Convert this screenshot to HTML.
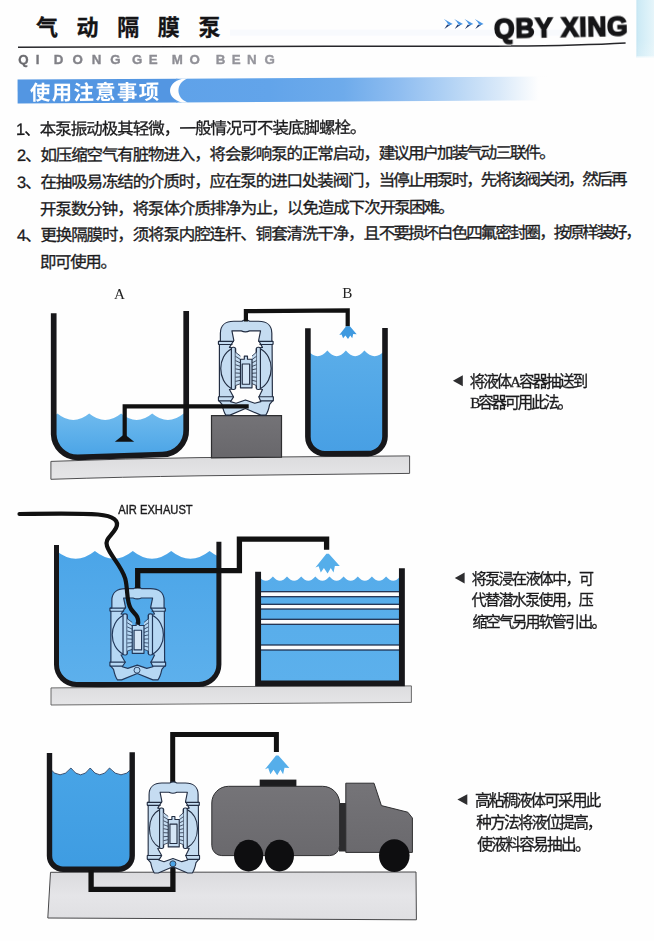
<!DOCTYPE html>
<html lang="zh-CN"><head><meta charset="utf-8"><title>气动隔膜泵 使用注意事项 QBY XING</title>
<style>
html,body{margin:0;padding:0}
body{background:#fefefe;font-family:"Liberation Sans","Noto Sans CJK SC",sans-serif}
.page{position:relative;width:654px;height:941px;overflow:hidden;background:#fefefe}
.abs{position:absolute;left:0;top:0;overflow:visible}
svg.abs,.brand{will-change:transform}
h1,p{margin:0;padding:0;font-weight:normal}
.ln{position:absolute;white-space:nowrap;line-height:1.3}
.t{position:absolute;left:0;top:0;color:#1b1b1d;white-space:nowrap;line-height:1.3;font-family:"Liberation Sans","Noto Sans CJK SC",sans-serif;-webkit-text-stroke:.3px currentColor}
.ln .t{position:static}
.title .t{color:#141416;font-weight:bold}
.h2 .t{color:#ffffff;font-weight:bold;-webkit-text-stroke:0}
.h2{transform:rotate(-0.33deg);transform-origin:0 77%}
.notes .ln{transform:rotate(-0.3deg);transform-origin:0 77%}
.sf{font-family:"Liberation Serif","Noto Serif CJK SC",serif}
.brand{position:absolute;left:494.0px;top:12.6px;font:bold 27.9px/32px "Liberation Sans",sans-serif;letter-spacing:.7px;color:#151517;-webkit-text-stroke:1.6px #151517;paint-order:stroke fill;white-space:nowrap;transform-origin:0 50%;transform:rotate(-1.1deg) scaleX(.95)}
.py{font:bold 12.8px "Liberation Sans",sans-serif;fill:url(#pyg);stroke:url(#pyg);stroke-width:.35px;text-anchor:middle}
.lab{font:15.2px "Liberation Serif",serif;fill:#222;text-anchor:middle}
.air{font:12.2px "Liberation Sans",sans-serif;fill:#1c1c1e}
.pmp{fill:#c5dcf1;stroke:#222d42;stroke-width:8.5;stroke-linejoin:round}
.p2{fill:#b6d8f4;stroke:#22385a}
</style></head><body>
<div class="page">
<svg width="0" height="0" style="position:absolute" aria-hidden="true"><defs>
<symbol id="pump" viewBox="0 0 654 872" preserveAspectRatio="none" overflow="visible">
<path fill-rule="evenodd" d="M148 262 L148 205 C148 150 185 118 245 118 L305 118 C318 106 347 106 360 118 L425 118 C485 118 522 150 522 205 L522 262 L531 266 L531 284 L524 289 L526 664 L533 669 L533 694 L524 700 L506 722 C499 760 489 785 478 800 L442 800 L330 752 L218 800 L188 800 C176 785 168 760 160 722 L142 700 L134 694 L134 669 L141 664 L141 289 L134 284 L134 266 Z
M232 188 L300 188 Q330 202 360 188 L440 188 L426 258 L454 308 L409 316 L409 604 L454 614 L428 668 L442 702 L398 714 L330 690 L262 714 L222 702 L244 668 L214 614 L259 604 L259 316 L214 308 L246 258 Z"/>
<path fill="none" d="M231 318 C124 372 124 552 231 608 M437 318 C544 372 544 552 437 608"/>
<path fill="none" d="M134 264 H247 M134 287 H236 M423 264 H531 M432 287 H531 M134 667 H246 M134 697 H226 M424 667 H533 M440 697 H533"/>
<rect x="228" y="307" width="29" height="307" rx="11"/><rect x="410" y="307" width="29" height="307" rx="11"/>
<path d="M258 343 L294 371 L294 572 L258 586 Z M410 343 L378 371 L378 572 L410 586 Z" stroke="none"/>
<path fill="none" stroke-width="6" d="M258 343 L294 371 M258 373 L294 396 M258 404 L294 421 M258 434 L294 446 M258 464 L294 471 M258 494 L294 496 M258 525 L294 522 M258 555 L294 547 M258 585 L294 572 M410 343 L378 371 M410 373 L378 396 M410 404 L378 421 M410 434 L378 446 M410 464 L378 471 M410 494 L378 496 M410 525 L378 522 M410 555 L378 547 M410 585 L378 572"/>
<path d="M294 394 L322 394 L322 372 L345 372 L345 394 L378 394 L378 602 L294 602 Z"/>
<rect x="307" y="429" width="54" height="147" fill="#d5e6f6"/>
</symbol>
</defs></svg>
<header>
<h1 class="title"><span class="t" style="left:36px;top:14px;font-size:22px;letter-spacing:18.6px">气动隔膜泵</span></h1>
<svg class="abs" width="654" height="110" viewBox="0 0 654 110" aria-hidden="true"><defs><linearGradient id="edge" x1="0" x2="1" y1="0" y2="0"><stop offset="0" stop-color="#c3e4f2"/><stop offset=".12" stop-color="#cdeaf5"/><stop offset=".55" stop-color="#d9f0f8"/><stop offset="1" stop-color="#e6f5fa"/></linearGradient><linearGradient id="edgev" x1="0" x2="0" y1="0" y2="1"><stop offset="0" stop-color="#fff" stop-opacity="0"/><stop offset=".9" stop-color="#fff" stop-opacity=".15"/><stop offset="1" stop-color="#fff" stop-opacity="1"/></linearGradient><linearGradient id="bar" x1="0" x2="1" y1="0" y2="0"><stop offset="0" stop-color="#5fa2e9"/><stop offset=".25" stop-color="#62a4ea"/><stop offset=".45" stop-color="#6eabeb"/><stop offset=".6" stop-color="#8fbdf0"/><stop offset=".72" stop-color="#aed0f4"/><stop offset=".87" stop-color="#d9e9f9"/><stop offset=".975" stop-color="#fefefe"/><stop offset="1" stop-color="#fefefe"/></linearGradient></defs><rect x="636.4" y="0" width="17.6" height="57.5" fill="url(#edge)"/><rect x="230" y="29.6" width="385" height="6.2" fill="#dbe7f7" opacity=".16"/><rect x="636.4" y="40" width="17.6" height="17.5" fill="url(#edgev)"/><path d="M18 47.2 L327 46.3 L480 46.3 Q572 45.9 625.6 42.9" fill="none" stroke="#26262a" stroke-width="1.5"/><g><g transform="translate(443.9 18.9)"><path d="M0 0 L8.8 5 L5.0 6.5 L2.6 2.9z" fill="#4a97e6"/><path d="M6.9 5.6 L0.5 10.1 L3.4 5.6 L4.6 6.3z" fill="#1f3a70"/></g><g transform="translate(454.2 18.9)"><path d="M0 0 L8.8 5 L5.0 6.5 L2.6 2.9z" fill="#4a97e6"/><path d="M6.9 5.6 L0.5 10.1 L3.4 5.6 L4.6 6.3z" fill="#1f3a70"/></g><g transform="translate(464.5 18.9)"><path d="M0 0 L8.8 5 L5.0 6.5 L2.6 2.9z" fill="#4a97e6"/><path d="M6.9 5.6 L0.5 10.1 L3.4 5.6 L4.6 6.3z" fill="#1f3a70"/></g><g transform="translate(474.8 18.9)"><path d="M0 0 L8.8 5 L5.0 6.5 L2.6 2.9z" fill="#4a97e6"/><path d="M6.9 5.6 L0.5 10.1 L3.4 5.6 L4.6 6.3z" fill="#1f3a70"/></g></g><g transform="rotate(-0.33 18 91.5)"><rect x="17.6" y="79.6" width="160" height="23.8" fill="#5396e2"/><rect x="176" y="79.6" width="372" height="23.8" fill="url(#bar)"/><path d="M187.5 79.6 C175.5 84 175.5 99 187.5 103.4 L182.3 103.4 C166 99.5 166 83.5 182.3 79.6 Z" fill="#fefefe"/></g></svg>
<div class="brand">QBY XING</div>
<svg class="abs" width="330" height="75" viewBox="0 0 330 75"><defs><linearGradient id="pyg" gradientUnits="userSpaceOnUse" x1="16" x2="260" y1="0" y2="0"><stop offset="0" stop-color="#646468"/><stop offset=".12" stop-color="#7e7e84"/><stop offset=".45" stop-color="#8a8a91"/><stop offset="1" stop-color="#97979e"/></linearGradient></defs><text class="py" transform="scale(1.040 1)" y="64.3" x="22.6 36.2 45.2 56.3 74.6 92.9 111.1 122.1 132.0 147.3 158.7 170.5 187.3 199.0 212.1 227.2 242.1 259.2">QI DONG GE MO BENG</text></svg>
<p class="ln h2" style="left:29.6px;top:79.5px;font-size:20.4px;letter-spacing:1.35px;height:26.5px"><span class="t">使用注意事项</span></p>
</header>
<section class="notes">
<p class="ln" style="left:16.4px;top:118.5px;font-size:16.5px;letter-spacing:-0.98px;height:21.4px"><span class="t">1、本泵振动极其轻微，一般情况可不装底脚螺栓。</span></p>
<p class="ln" style="left:16.6px;top:145.2px;font-size:16.5px;letter-spacing:-1.12px;height:21.4px"><span class="t">2、如压缩空气有脏物进入，将会影响泵的正常启动，<span style="letter-spacing:-1.92px">建议用户加装气动三联件。</span></span></p>
<p class="ln" style="left:16.6px;top:171.9px;font-size:16.5px;letter-spacing:-1.12px;height:21.4px"><span class="t">3、在抽吸易冻结的介质时，应在泵的进口处装阀门，<span style="letter-spacing:-1.92px">当停止用泵时，先将该阀关</span><span style="letter-spacing:-2.2px">闭，然后再</span></span></p>
<p class="ln" style="left:40.2px;top:198.6px;font-size:16.5px;letter-spacing:-1.06px;height:21.4px"><span class="t">开泵数分钟，将泵体介质排净为止，以免造成下次<span style="letter-spacing:-1.86px">开泵困难。</span></span></p>
<p class="ln" style="left:16.6px;top:225.2px;font-size:16.5px;letter-spacing:-1.12px;height:21.4px"><span class="t">4、更换隔膜时，须将泵内腔连杆、铜套清洗干净，且<span style="letter-spacing:-1.92px">不要损坏白色四氟密封圈，</span><span style="letter-spacing:-2.2px">按原样装好，</span></span></p>
<p class="ln" style="left:40.2px;top:251.9px;font-size:16.5px;letter-spacing:-1.40px;height:21.4px"><span class="t">即可使用。</span></p>
</section>
<figure style="margin:0"><svg class="abs" width="654" height="941" viewBox="0 0 654 941">
<defs>
<linearGradient id="slab" x1="0" x2="0" y1="0" y2="1"><stop offset="0" stop-color="#dcdcde"/><stop offset="1" stop-color="#e6e6e8"/></linearGradient>
<linearGradient id="slab3" x1="0" x2="0" y1="0" y2="1"><stop offset="0" stop-color="#dbdbde"/><stop offset=".5" stop-color="#e5e5e8"/><stop offset="1" stop-color="#dfdfe2"/></linearGradient>
<linearGradient id="blk" x1="0" x2="0" y1="0" y2="1"><stop offset="0" stop-color="#747377"/><stop offset="1" stop-color="#68676b"/></linearGradient>
<linearGradient id="trk" x1="0" x2="0" y1="0" y2="1"><stop offset="0" stop-color="#757478"/><stop offset="1" stop-color="#6a696d"/></linearGradient>
<linearGradient id="w1" gradientUnits="userSpaceOnUse" x1="0" x2="0" y1="412" y2="458"><stop offset="0" stop-color="#70bbee"/><stop offset="1" stop-color="#49a3e6"/></linearGradient>
<linearGradient id="w2" gradientUnits="userSpaceOnUse" x1="0" x2="0" y1="350" y2="455"><stop offset="0" stop-color="#5aade9"/><stop offset="1" stop-color="#479fe4"/></linearGradient>
<linearGradient id="w3" gradientUnits="userSpaceOnUse" x1="0" x2="0" y1="550" y2="685"><stop offset="0" stop-color="#4ba5e8"/><stop offset="1" stop-color="#5db0ec"/></linearGradient>
<linearGradient id="w4" gradientUnits="userSpaceOnUse" x1="0" x2="0" y1="575" y2="683"><stop offset="0" stop-color="#56acea"/><stop offset="1" stop-color="#5cb0ec"/></linearGradient>
<linearGradient id="w5" gradientUnits="userSpaceOnUse" x1="0" x2="0" y1="768" y2="870"><stop offset="0" stop-color="#48a4e6"/><stop offset="1" stop-color="#3e9ce2"/></linearGradient>
</defs>
<g id="fig1">
<path d="M50.9 461.4 Q125 458.5 200 457.6 L409.6 455.9 L409.6 473.4 L200 475.8 Q120 477 50.9 479.3z" fill="url(#slab)" stroke="#4e4e50" stroke-width="1"/>
<clipPath id="cA"><path d="M53.7 313.3 L53.7 434.3 A24.0 24.0 0 0 0 77.7 457.4 L162.2 454.5 A24.0 24.0 0 0 0 186.2 429.6 L186.2 311.0 z"/></clipPath>
<path clip-path="url(#cA)" d="M26.0 413.5 Q41.7 426.5 57.4 413.5 Q73.3 426.5 89.2 413.5 Q105.2 426.5 121.1 413.5 Q136.6 426.5 152.2 413.5 Q167.9 426.5 183.6 413.5 Q199.3 426.5 215.0 413.5 L188 470 L50 470z" fill="url(#w1)"/>
<path d="M53.7 313.3 L53.7 434.3 A24.0 24.0 0 0 0 77.7 457.4 L162.2 454.5 A24.0 24.0 0 0 0 186.2 429.6 L186.2 311.0" fill="none" stroke="#17171a" stroke-width="5.7"/>
<clipPath id="cB"><path d="M307.9 328.3 L307.9 436.8 A17.0 17.0 0 0 0 324.9 453.8 L368.0 453.6 A17.0 17.0 0 0 0 385.0 436.6 L385.0 328.1 z"/></clipPath>
<path clip-path="url(#cB)" d="M307.8 350.6 Q317.6 361.8 327.4 350.6 Q336.6 361.8 345.9 350.6 Q355.1 361.8 364.4 350.6 Q374.6 361.8 384.8 350.6 L386 460 L306 460z" fill="url(#w2)"/>
<path d="M307.9 328.3 L307.9 436.8 A17.0 17.0 0 0 0 324.9 453.8 L368.0 453.6 A17.0 17.0 0 0 0 385.0 436.6 L385.0 328.1" fill="none" stroke="#17171a" stroke-width="5.6"/>
<path d="M211.5 415.7 H281.5 V457.2 L211.5 457.9z" fill="url(#blk)" stroke="#2e2e30" stroke-width="1.2"/>
<use href="#pump" class="pmp" x="200" y="305" width="90" height="120"/>
<path d="M124.7 437 V406.3 H248.7" fill="none" stroke="#111" stroke-width="4.2"/>
<path d="M114.8 441.8 H134.2 L126.2 435.4 H122.6z" fill="#111"/>
<path d="M245.9 321.5 V311.2 L347.7 310.4 V326.4" fill="none" stroke="#111" stroke-width="4.2"/>
<path d="M346.1 326.3 L349.9 326.3 L356.7 334.2 L353.2 334.1 L352.2 338.3 L350.3 335.4 L348.0 338.9 L345.4 335.4 L343.1 338.3 L341.6 334.4 L339.3 335.1z" fill="#3f9ae0"/>
<text class="lab" x="119.5" y="298.9">A</text><text class="lab" x="347.2" y="298.0">B</text>
</g><g id="fig2">
<path d="M51 687.9 L218 686.6 L411.4 685.9 L411.4 702.4 L218 703.8 L51 705z" fill="url(#slab)" stroke="#5b5b5b" stroke-width=".9"/>
<clipPath id="cC"><path d="M56.5 545.0 L56.5 664.5 A20.0 20.0 0 0 0 76.5 684.5 L198.9 684.5 A20.0 20.0 0 0 0 218.9 664.5 L218.9 541.7 z"/></clipPath>
<path clip-path="url(#cC)" d="M56.5 551.0 Q75.7 566.4 94.9 551.0 Q113.9 566.4 132.8 551.0 Q152.0 566.4 171.2 551.0 Q190.4 566.4 209.6 551.0 Q228.8 566.4 248.0 551.0 L222 690 L54 690z" fill="url(#w3)"/>
<clipPath id="cD"><rect x="258.2" y="560" width="143.7" height="123.3"/></clipPath>
<g clip-path="url(#cD)"><path d="M258.8 576.6 Q265.8 585.0 272.9 576.6 Q280.0 585.0 287.0 576.6 Q294.1 585.0 301.2 576.6 Q308.3 585.0 315.3 576.6 Q322.4 585.0 329.5 576.6 Q336.6 585.0 343.6 576.6 Q350.7 585.0 357.8 576.6 Q364.9 585.0 371.9 576.6 Q379.0 585.0 386.1 576.6 Q393.2 585.0 400.2 576.6 Q407.3 585.0 414.4 576.6 L420 690 L250 690z" fill="url(#w4)"/>
<rect x="255" y="591.7" width="150" height="5.0" fill="#fbfcfd" stroke="#1c2b4a" stroke-width="1.25"/>
<rect x="255" y="604.3" width="150" height="4.7" fill="#fbfcfd" stroke="#1c2b4a" stroke-width="1.25"/>
<rect x="255" y="619.3" width="150" height="5.0" fill="#fbfcfd" stroke="#1c2b4a" stroke-width="1.25"/>
<rect x="255" y="645.0" width="150" height="5.0" fill="#fbfcfd" stroke="#1c2b4a" stroke-width="1.25"/>
</g>
<path d="M258.1 571.7 V683.4 H401.9 V568.3" fill="none" stroke="#17171a" stroke-width="5.9"/>
<use href="#pump" class="pmp p2" x="91.2" y="572.8" width="91.3" height="116.7"/>
<circle cx="137" cy="670.2" r="3" fill="#b3d6f3" stroke="#22385a" stroke-width=".9"/>
<path d="M56.5 545.0 L56.5 664.5 A20.0 20.0 0 0 0 76.5 684.5 L198.9 684.5 A20.0 20.0 0 0 0 218.9 664.5 L218.9 541.7" fill="none" stroke="#17171a" stroke-width="5"/>
<path d="M137.7 588.5 V570.6 H239.4 V539.2 H326.6 V549.8" fill="none" stroke="#111" stroke-width="5.3"/>
<path d="M19.5 514 C50 513.5 80 513 98 514.5 C114 516 119.5 521 116 528 C112 536 104.5 538.5 107 546 C110 555.5 121 565 125.2 578.5 C128.2 590 126 601 131 609 C135 615 138.3 615 138.3 623" fill="none" stroke="#111" stroke-width="4.2" stroke-linecap="round"/>
<path d="M326.4 553.8 L328.8 553.8 L339.8 566.1 L334.9 566.0 L333.5 572.4 L330.8 567.9 L327.6 573.4 L323.9 567.9 L320.8 572.4 L318.6 566.3 L315.4 567.5z" fill="#55aeea"/>
<text class="air" x="118.3" y="514.0" stroke="#1c1c1e" stroke-width=".4" textLength="74.4" lengthAdjust="spacingAndGlyphs">AIR EXHAUST</text>
</g><g id="fig3">
<path d="M50.5 872.3 L416 872 L416.4 919.8 L47.8 918z" fill="url(#slab3)" stroke="#48484a" stroke-width="1"/>
<clipPath id="cE"><path d="M49.5 753.0 L49.5 855.7 A13.5 13.5 0 0 0 63.0 869.2 L118.7 869.2 A13.5 13.5 0 0 0 132.2 855.7 L132.2 752.3 z"/></clipPath>
<path clip-path="url(#cE)" d="M49.2 768.0 Q60.1 781.6 70.9 768.0 Q80.6 781.6 90.2 768.0 Q99.8 781.6 109.5 768.0 Q121.0 781.6 132.5 768.0 L134 875 L48 875z" fill="url(#w5)"/>
<path d="M49.2 768.0 Q60.1 781.6 70.9 768.0 Q80.6 781.6 90.2 768.0 Q99.8 781.6 109.5 768.0 Q121.0 781.6 132.5 768.0" fill="none" stroke="#1b2f52" stroke-width=".8"/>
<path d="M49.5 753.0 L49.5 855.7 A13.5 13.5 0 0 0 63.0 869.2 L118.7 869.2 A13.5 13.5 0 0 0 132.2 855.7 L132.2 752.3" fill="none" stroke="#17171a" stroke-width="5.4"/>
<path d="M91.1 870 V889.4 H172.9 V866.5" fill="none" stroke="#111" stroke-width="5.3"/>
<path d="M172.7 783 V734.4 H276.4 V752" fill="none" stroke="#111" stroke-width="5"/>
<use href="#pump" class="pmp" x="129.7" y="767.5" width="85.7" height="115"/>
<circle cx="172.9" cy="863.8" r="3.0" fill="#4aa3e6" stroke="#2f3b50" stroke-width=".95"/>
<rect x="259.7" y="779.6" width="36.7" height="8" fill="#1c1c1e"/>
<rect x="339" y="803" width="8" height="48.5" fill="#2c2c2e"/>
<path d="M228.5 786.3 H322.5 A17 17 0 0 1 339.6 803.3 V845.6 A10 10 0 0 1 329.6 855.6 H221.8 A10 10 0 0 1 211.8 845.6 V803 A16.7 16.7 0 0 1 228.5 786.3z" fill="url(#trk)" stroke="#2e2e30" stroke-width="1"/>
<path d="M345.8 783.2 H374 L381.4 805.6 L407.8 812.2 L412.4 818 V852.4 H345.8z" fill="url(#trk)" stroke="#2e2e30" stroke-width="1"/>
<ellipse cx="248.6" cy="855.6" rx="14.6" ry="15.8" fill="#0e0e10"/>
<ellipse cx="279.4" cy="855.6" rx="14.6" ry="15.8" fill="#0e0e10"/>
<ellipse cx="394.3" cy="855.6" rx="15.3" ry="16.4" fill="#0e0e10"/>
<path d="M276.0 755.4 L278.4 755.4 L289.4 767.9 L284.5 767.7 L283.1 774.2 L280.4 769.7 L277.2 775.2 L273.5 769.7 L270.4 774.2 L268.2 768.1 L265.0 769.3z" fill="#55aeea"/>
</g></svg>
<p class="ln cap" style="left:469.8px;top:371.5px;font-size:15.4px;letter-spacing:-2.00px;height:20.0px"><span class="t">将液体<span class="sf">A</span>容器抽送到</span></p>
<p class="ln cap" style="left:470.2px;top:393.1px;font-size:15.4px;letter-spacing:-2.20px;height:20.0px"><span class="t"><span class="sf">B</span>容器可用此法。</span></p>
<p class="ln cap" style="left:471.8px;top:569.1px;font-size:15.0px;letter-spacing:-1.60px;height:19.5px"><span class="t">将泵浸在液体中，可</span></p>
<p class="ln cap" style="left:471.6px;top:590.2px;font-size:15.0px;letter-spacing:-1.60px;height:19.5px"><span class="t">代替潜水泵使用，压</span></p>
<p class="ln cap" style="left:472.6px;top:612.3px;font-size:15.0px;letter-spacing:-1.80px;height:19.5px"><span class="t">缩空气另用软管引出。</span></p>
<p class="ln cap" style="left:475.0px;top:790.8px;font-size:15.6px;letter-spacing:-1.75px;height:20.3px"><span class="t">高粘稠液体可采用此</span></p>
<p class="ln cap" style="left:476.3px;top:812.6px;font-size:15.6px;letter-spacing:-1.75px;height:20.3px"><span class="t">种方法将液位提高，</span></p>
<p class="ln cap" style="left:477.3px;top:835.2px;font-size:15.6px;letter-spacing:-1.65px;height:20.3px"><span class="t">使液料容易抽出。</span></p>
<svg class="abs" width="654" height="941" viewBox="0 0 654 941" aria-hidden="true"><g fill="#2e2e30"><path d="M462.8 375.3 V386.3 L452.9 380.8z"/><path d="M464.6 572.6 V583.6 L454.8 578.1z"/><path d="M467.3 794.2 V805 L457.4 799.6z"/></g></svg>
</figure>
</div></body></html>
